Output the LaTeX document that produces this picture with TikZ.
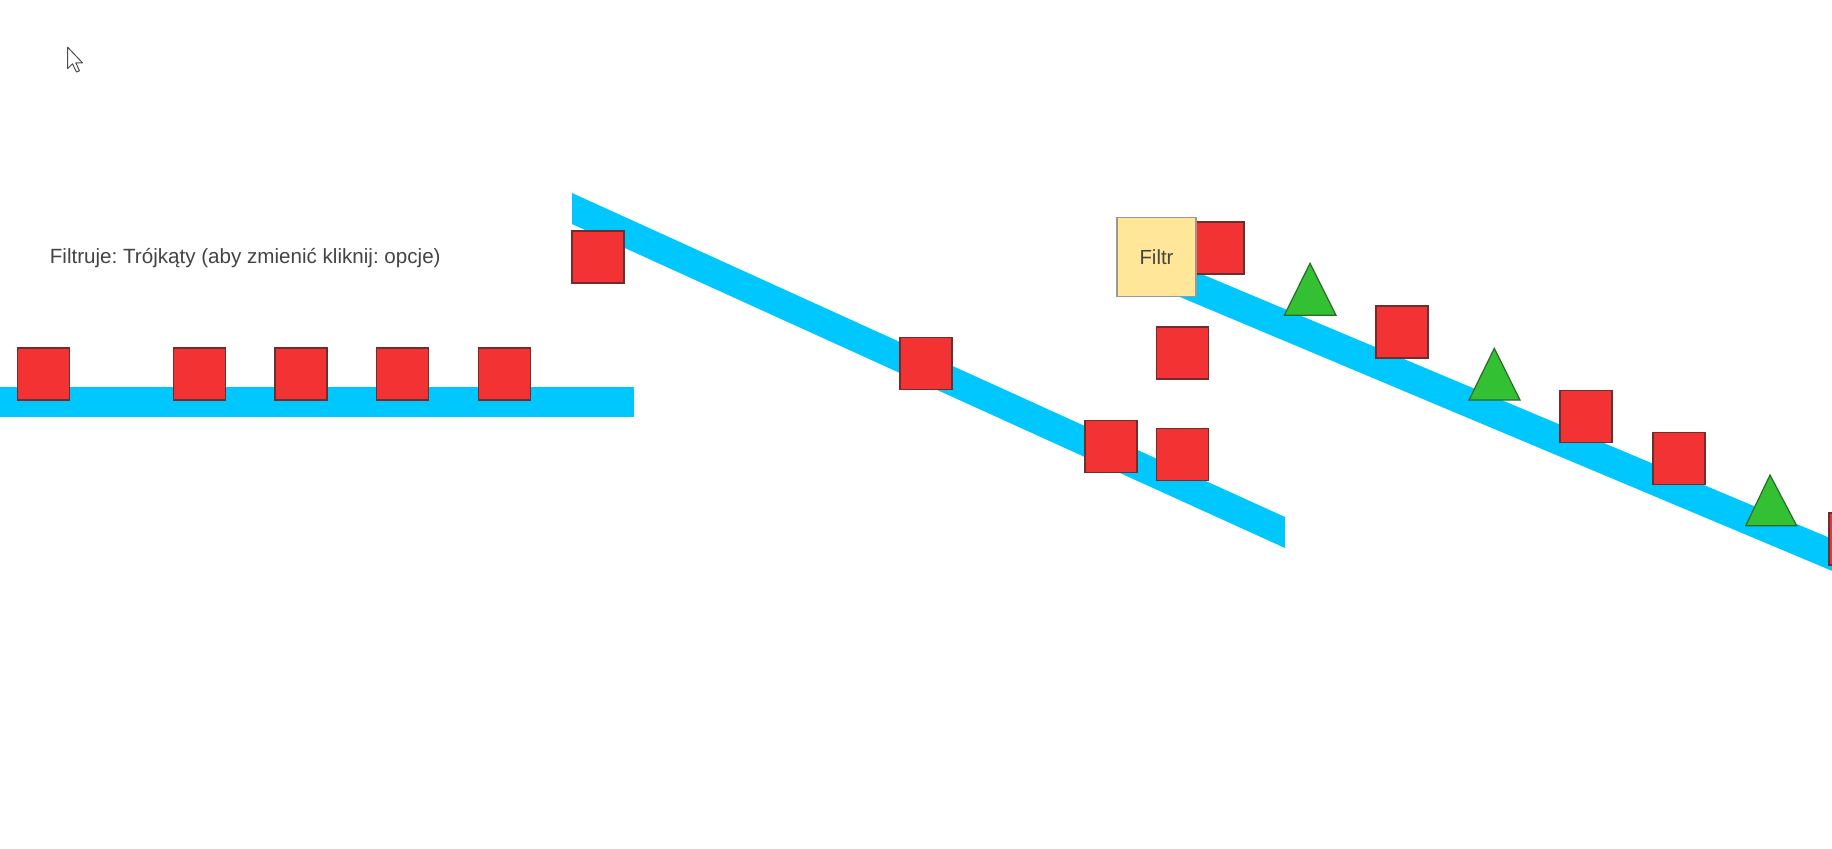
\documentclass[tikz,border=0pt]{standalone}
\usepackage{fontspec}
\setmainfont{Liberation Sans}
\frenchspacing
\definecolor{beltc}{HTML}{00C8FF}
\definecolor{redf}{HTML}{F33333}
\definecolor{redd}{HTML}{6E2E2E}
\definecolor{greenf}{HTML}{33C133}
\definecolor{greend}{HTML}{2A6A2A}
\definecolor{filtrf}{HTML}{FFE699}
\definecolor{filtrd}{HTML}{9A9A8A}
\definecolor{txtc}{HTML}{444444}
\tikzset{
  belt/.style={fill=beltc, draw=none},
  sq/.style={draw=redd, fill=redf, line width=0.6pt, minimum size=26pt, inner sep=0pt, outer sep=0pt, rectangle},
  tri/.style={draw=greend, fill=greenf, line width=0.6pt, line join=miter},
  filtrbox/.style={draw=filtrd, fill=filtrf, line width=0.6pt, minimum size=39.5pt, inner sep=0pt, rectangle, text=txtc, font=\fontsize{10.2}{12}\selectfont},
  lbl/.style={text=txtc, font=\fontsize{10.3}{12}\selectfont, inner sep=0pt}
}
\begin{document}
\begin{tikzpicture}[x=0.5pt, y=-0.5pt]
\clip (0,0) rectangle (1832,848);
\fill[white] (0,0) rectangle (1832,848);

% cursor
\draw[draw=black!70, fill=white, line width=0.5pt, line join=round]
  (67.7,47.3) -- (67.7,68.5) -- (72.5,63.8) -- (76.5,72) -- (79.5,70.7) -- (75.8,62.8) -- (82.5,62.8) -- cycle;

% label
\node[lbl, anchor=base west] (info) at (49.5,263) {Filtruje: Trójkąty (aby zmienić kliknij: opcje)};

% belt 1
\path[belt] (0,387) rectangle (634,417);
\node[sq] (a1) at (43.8,374) {};
\node[sq] (a2) at (199.2,374) {};
\node[sq] (a3) at (300.9,374) {};
\node[sq] (a4) at (402.5,374) {};
\node[sq] (a5) at (504.2,374) {};

% belt 2
\path[belt] (572,193) -- (1285,517) -- (1285,548) -- (572,224) -- cycle;
\node[sq] (b1) at (598,257) {};
\node[sq] (b2) at (926,363.4) {};
\node[sq] (b3) at (1111,446.2) {};
\node[sq] (b4) at (1182.3,454.5) {};
\node[sq] (b5) at (1182.3,353) {};

% belt 3
\path[belt] (1140,248.2) -- (1900,567.4) -- (1900,599.4) -- (1140,280.2) -- cycle;
\node[sq] (c0) at (1218,248) {};
\node[filtrbox] (filtr) at (1156.5,257) {Filtr};
\node[sq] (c1) at (1402,332) {};
\node[sq] (c2) at (1586,416.7) {};
\node[sq] (c3) at (1679,458.3) {};
\node[sq] (c4) at (1855,539) {};

% triangles
\draw[tri] (1310,263.3) -- (1336,315.3) -- (1284.3,315.3) -- cycle;
\draw[tri] (1494.3,348.3) -- (1520,400) -- (1469,400) -- cycle;
\draw[tri] (1770,475) -- (1796.7,525.7) -- (1745.7,525.7) -- cycle;
\end{tikzpicture}
\end{document}
